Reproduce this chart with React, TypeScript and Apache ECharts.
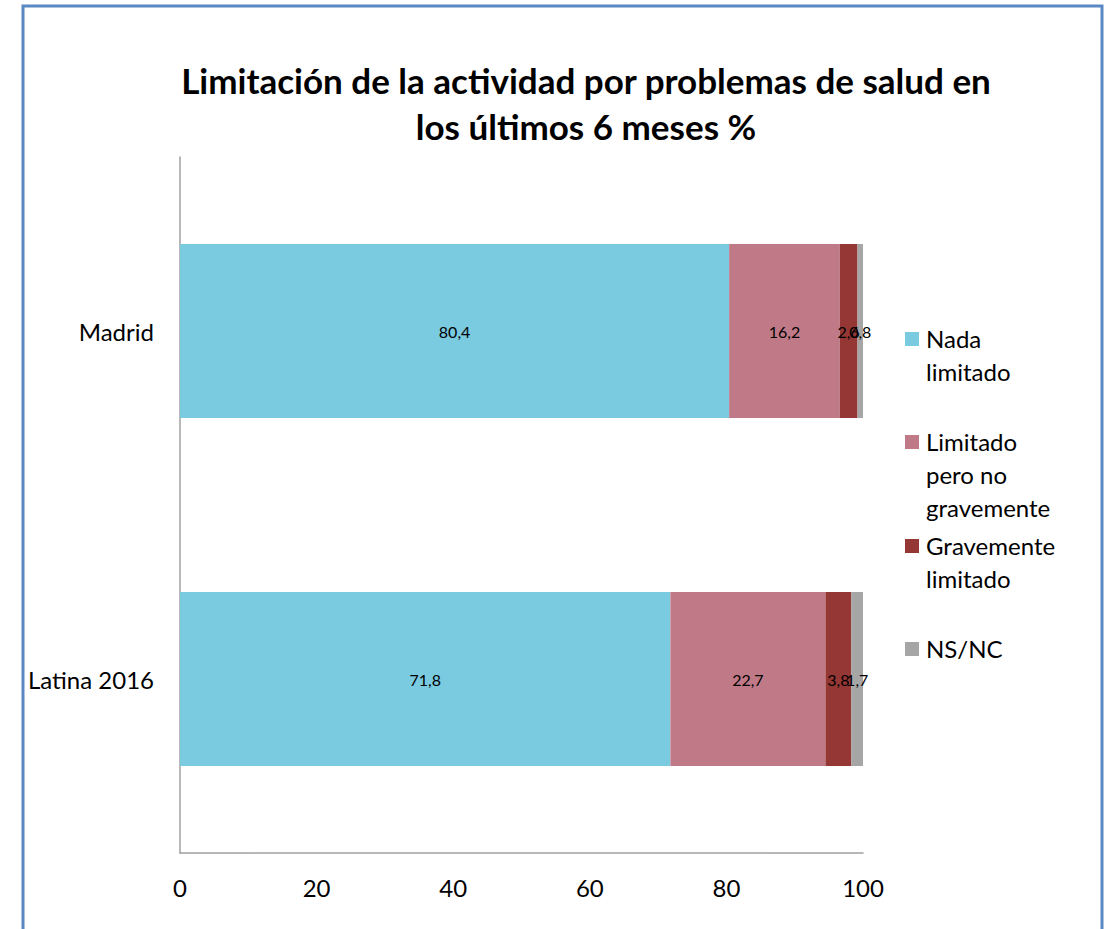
import React, { useEffect, useRef } from "react";
import * as echarts from "echarts";

const categories = ["Latina 2016", "Madrid"];
const seriesNames = ["Nada limitado", "Limitado pero no gravemente", "Gravemente limitado", "NS/NC"];
const legendLines = [["Nada", "limitado"], ["Limitado", "pero no", "gravemente"], ["Gravemente", "limitado"], ["NS/NC"]];
const nadaLimitado = [71.8, 80.4];
const limitadoNoGrave = [22.7, 16.2];
const gravementeLimitado = [3.8, 2.6];
const nsnc = [1.7, 0.8];
const xTicks = [0, 20, 40, 60, 80, 100];
const colors = ["#7ACAE0", "#C07A87", "#953735", "#A6A6A6"];

const FONT = "Lato, 'Open Sans', sans-serif";

export default function App() {
  const ref = useRef<HTMLDivElement>(null);
  useEffect(() => {
    if (!ref.current) return;
    const chart = echarts.init(ref.current, undefined, { renderer: "svg" });
    const values = [nadaLimitado, limitadoNoGrave, gravementeLimitado, nsnc];
    const legendTop = [339, 442, 546, 649];
    const legendGraphics: any[] = [];
    seriesNames.forEach((n, i) => {
      legendGraphics.push({
        type: "rect",
        shape: { x: 905, y: legendTop[i] - 7, width: 14, height: 14 },
        style: { fill: colors[i] },
      });
      legendGraphics.push({
        type: "text",
        x: 926,
        y: legendTop[i] - 17.5,
        style: {
          text: legendLines[i].join("\n"),
          font: `24px ${FONT}`,
          fill: "#000",
          lineHeight: 33,
          verticalAlign: "top",
        },
      });
    });
    chart.setOption({
      animation: false,
      backgroundColor: "#fff",
      title: {
        text: "Limitación de la actividad por problemas de salud en\nlos últimos 6 meses %",
        left: 581,
        textAlign: "center",
        top: 52,
        textStyle: { fontFamily: FONT, fontWeight: "bold", fontSize: 35, lineHeight: 46, color: "#000" },
      },
      grid: { left: 180, right: 246, top: 157, bottom: 76 },
      xAxis: {
        type: "value",
        min: 0,
        max: 100,
        interval: 20,
        axisLine: { show: true, lineStyle: { color: "#A0A0A0", width: 1.5 } },
        axisTick: { show: false },
        splitLine: { show: false },
        axisLabel: {
          margin: 22,
          fontFamily: FONT,
          fontSize: 24,
          color: "#000",
          formatter: (v: number) => (xTicks.includes(v) ? String(v) : ""),
        },
      },
      yAxis: {
        type: "category",
        data: categories,
        axisLine: { show: true, lineStyle: { color: "#A0A0A0", width: 1.5 } },
        axisTick: { show: false },
        axisLabel: { margin: 26, fontFamily: FONT, fontSize: 24, color: "#000" },
      },
      series: seriesNames.map((name, i) => ({
        name,
        type: "bar",
        stack: "total",
        data: values[i],
        barCategoryGap: "50%",
        itemStyle: { color: colors[i] },
        label: {
          show: true,
          position: "inside",
          fontFamily: FONT,
          fontSize: 16,
          color: "#000",
          formatter: (p: any) => String(p.value).replace(".", ","),
        },
      })),
      graphic: [
        {
          type: "rect",
          shape: { x: 23, y: 6, width: 1079, height: 950 },
          style: { fill: "none", stroke: "#5A88C4", lineWidth: 3 },
          silent: true,
        },
        ...legendGraphics,
      ],
    });
    return () => chart.dispose();
  }, []);
  return <div ref={ref} style={{ position: "fixed", left: 0, top: 0, width: 1109, height: 929 }} />;
}
